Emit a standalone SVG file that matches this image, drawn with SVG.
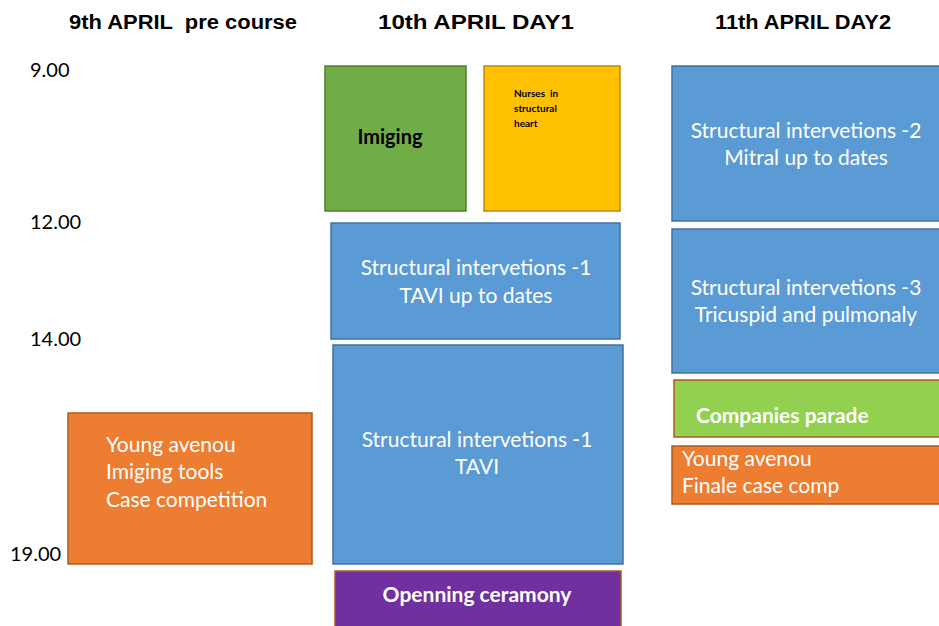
<svg xmlns="http://www.w3.org/2000/svg" width="939" height="626" viewBox="0 0 939 626">
<style>
.title{font-family:"Liberation Sans",Arial,sans-serif;font-weight:bold;font-size:20px;fill:#000;white-space:pre}
.time{font-family:Lato,"Open Sans",sans-serif;font-size:20px;fill:#000}
.w{font-family:Lato,"Open Sans",sans-serif;font-size:21px;fill:#fff}
.wb{font-family:Lato,"Open Sans",sans-serif;font-size:21px;font-weight:bold;fill:#fff}
.blue{fill:#5B9BD5;stroke:#41719C;stroke-width:1.5}
.orange{fill:#ED7D31;stroke:#AE5A21;stroke-width:1.5}
</style>
<rect width="939" height="626" fill="#fff"/>
<g id="headers">
<text class="title" x="183" y="29" text-anchor="middle" textLength="228" lengthAdjust="spacingAndGlyphs" xml:space="preserve">9th APRIL  pre course</text>
<text class="title" x="476" y="29" text-anchor="middle" textLength="196" lengthAdjust="spacingAndGlyphs">10th APRIL DAY1</text>
<text class="title" x="803" y="29" text-anchor="middle" textLength="176" lengthAdjust="spacingAndGlyphs">11th APRIL DAY2</text>
</g>
<g id="times">
<text class="time" x="30" y="77">9.00</text>
<text class="time" x="30" y="229">12.00</text>
<text class="time" x="30" y="346">14.00</text>
<text class="time" x="10" y="561">19.00</text>
</g>
<g id="imiging">
<rect x="325" y="66" width="141" height="145" fill="#70AD47" stroke="#507E32" stroke-width="1.5"/>
<text x="390" y="144" text-anchor="middle" font-family="Lato,'Open Sans',sans-serif" font-weight="bold" font-size="20" fill="#000">Imiging</text>
</g>
<g id="nurses">
<rect x="484" y="66" width="136" height="145" fill="#FFC000" stroke="#BC8C00" stroke-width="1.5"/>
<text font-family="Lato,'Open Sans',sans-serif" font-weight="bold" font-size="10" fill="#000" xml:space="preserve">
<tspan x="514" y="97">Nurses  in</tspan>
<tspan x="514" y="112">structural</tspan>
<tspan x="514" y="127">heart</tspan>
</text>
</g>
<g id="tavi-updates">
<rect class="blue" x="331" y="223" width="289" height="116"/>
<text class="w" text-anchor="middle"><tspan x="476" y="275">Structural intervetions -1</tspan><tspan x="476" y="303">TAVI up to dates</tspan></text>
</g>
<g id="tavi">
<rect class="blue" x="333" y="345" width="290" height="219"/>
<text class="w" text-anchor="middle"><tspan x="477" y="447">Structural intervetions -1</tspan><tspan x="477" y="474">TAVI</tspan></text>
</g>
<g id="openning">
<rect x="335" y="571" width="286" height="60" fill="#7030A0" stroke="#AE5A21" stroke-width="1.5"/>
<text class="wb" x="477" y="602" text-anchor="middle">Openning ceramony</text>
</g>
<g id="young-pre">
<rect class="orange" x="68" y="413" width="244" height="151"/>
<text class="w"><tspan x="106" y="452">Young avenou</tspan><tspan x="106" y="479">Imiging tools</tspan><tspan x="106" y="507">Case competition</tspan></text>
</g>
<g id="mitral">
<rect class="blue" x="672" y="66" width="270" height="155"/>
<text class="w" text-anchor="middle"><tspan x="806" y="138">Structural intervetions -2</tspan><tspan x="806" y="165">Mitral up to dates</tspan></text>
</g>
<g id="tricuspid">
<rect class="blue" x="672" y="229" width="270" height="144"/>
<text class="w" text-anchor="middle"><tspan x="806" y="295">Structural intervetions -3</tspan><tspan x="806" y="322">Tricuspid and pulmonaly</tspan></text>
</g>
<g id="companies">
<rect x="674" y="380" width="268" height="57" fill="#92D050" stroke="#AE5A21" stroke-width="1.5"/>
<text class="wb" x="696" y="423">Companies parade</text>
</g>
<g id="young-final">
<rect class="orange" x="672" y="446" width="270" height="58"/>
<text class="w"><tspan x="682" y="466">Young avenou</tspan><tspan x="682" y="493">Finale case comp</tspan></text>
</g>
<g id="connectors"></g>
</svg>
